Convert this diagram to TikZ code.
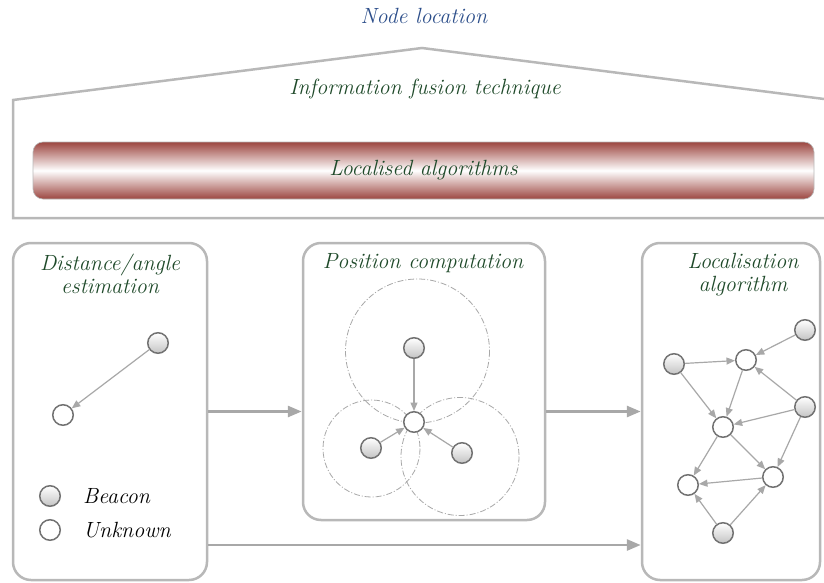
\documentclass[tikz,border=0pt]{standalone}
\usetikzlibrary{arrows.meta}
\definecolor{boxgray}{HTML}{B8B8B8}
\definecolor{arrgray}{HTML}{A8A8A8}
\definecolor{nodegray}{HTML}{727272}
\definecolor{ballgray}{HTML}{C4C4C4}
\definecolor{txtgreen}{HTML}{1F4A2A}
\definecolor{txtblue}{HTML}{2C4E8A}
\definecolor{barred}{HTML}{9C4640}
\begin{document}
\begin{tikzpicture}[x=1pt,y=-1pt,
  every node/.style={font=\fontsize{22}{23}\selectfont\itshape, inner sep=0pt},
  box/.style={draw=boxgray, line width=2.5pt, rounded corners=18pt, fill=white},
  beacon/.style={circle, draw=nodegray, line width=1.5pt, minimum size=20.5pt, top color=white, bottom color=ballgray},
  unknown/.style={circle, draw=nodegray, line width=1.5pt, minimum size=20.5pt, fill=white},
  link/.style={draw=arrgray, line width=1.2pt, -{Triangle[length=8.5pt,width=7pt]}},
  flow/.style={draw=arrgray, line width=2.8pt, -{Triangle[length=14pt,width=11pt]}},
  rangecirc/.style={draw=arrgray, line width=0.8pt, dash pattern=on 6pt off 2pt on 1pt off 2pt},
  title/.style={text=txtgreen, align=center},
  bar/.style={draw=boxgray, line width=0.6pt, rounded corners=10pt, top color=barred, bottom color=barred, middle color=white}
]
\useasboundingbox (0,0) rectangle (824,583);

% top
\node[text=txtblue] (loc) at (424,16) {Node location};
\coordinate (hbl) at (13,218);
\coordinate (htl) at (13,100);
\coordinate (peak) at (422,48);
\coordinate (htr) at (832,100);
\coordinate (hbr) at (832,218);
\draw[draw=boxgray, line width=2.5pt] (hbl) -- (htl) -- (peak) -- (htr) -- (hbr) -- cycle;
\node[text=txtgreen] (fusion) at (425,89) {Information fusion technique};
\node[bar, minimum width=781pt, minimum height=57pt, text=txtgreen] (bar) at (423.5,170.5) {Localised algorithms};

% boxes
\node[box, minimum width=194pt, minimum height=337pt] (lbox) at (110,411.5) {};
\node[box, minimum width=242pt, minimum height=277pt] (mbox) at (424,381.5) {};
\node[box, minimum width=178pt, minimum height=337pt] (rbox) at (731,411.5) {};

\node[title] (lt) at (110,274) {Distance/angle\\estimation};
\node[title] (mt) at (423,263) {Position computation};
\node[title] (rt) at (743,275) {Localisation\\algorithm};

% connectors between boxes
\draw[flow] (lbox.east) -- (mbox.west |- lbox.east);
\draw[flow] (mbox.east |- rbox.west) -- (rbox.west);
\draw[flow] ([yshift=-133.5pt]lbox.east) -- ([yshift=-133.5pt]rbox.west);

% left box content
\node[beacon] (lb) at (158,343) {};
\node[unknown] (lu) at (63,415) {};
\draw[link] (lb) -- (lu);
\node[beacon] (legb) at (50,496) {};
\node[anchor=west] (legbt) at (83,496) {Beacon};
\node[unknown] (legu) at (50,530) {};
\node[anchor=west] (legut) at (83,530) {Unknown};

% middle box content
\draw[rangecirc] (417.5,351) circle[radius=72];
\draw[rangecirc] (371.5,448.5) circle[radius=48.5];
\draw[rangecirc] (460,456.5) circle[radius=59];
\node[beacon] (mb1) at (414,348) {};
\node[unknown] (mu) at (414,422) {};
\node[beacon] (mb2) at (371,448) {};
\node[beacon] (mb3) at (462,453) {};
\draw[link] (mb1) -- (mu);
\draw[link] (mb2) -- (mu);
\draw[link] (mb3) -- (mu);

% right box content
\node[beacon] (ra) at (805,330) {};
\node[beacon] (rb) at (674,364) {};
\node[unknown] (rc) at (746,360) {};
\node[beacon] (rd) at (805,407) {};
\node[unknown] (re) at (723,427) {};
\node[unknown] (rf) at (688,485) {};
\node[unknown] (rg) at (773,477) {};
\node[beacon] (rh) at (723,533) {};
\draw[link] (ra) -- (rc);
\draw[link] (rb) -- (rc);
\draw[link] (rb) -- (re);
\draw[link] (rc) -- (re);
\draw[link] (rd) -- (rc);
\draw[link] (rd) -- (re);
\draw[link] (rd) -- (rg);
\draw[link] (re) -- (rf);
\draw[link] (re) -- (rg);
\draw[link] (rg) -- (rf);
\draw[link] (rh) -- (rf);
\draw[link] (rh) -- (rg);
\end{tikzpicture}
\end{document}
